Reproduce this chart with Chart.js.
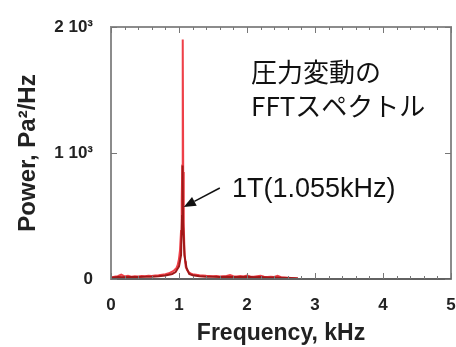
<!DOCTYPE html>
<html>
<head>
<meta charset="utf-8">
<script src="https://cdn.jsdelivr.net/npm/chart.js@4"></script>
<style>
  html, body { margin: 0; padding: 0; background: #ffffff; }
  #wrap { width: 456px; height: 347px; }
</style>
</head>
<body>
<div id="wrap"><canvas id="c" width="456" height="347"></canvas></div>
<script>
// Pressure fluctuation FFT spectrum (frequency in kHz, power in Pa^2/Hz)
const freqMain = [0, 0.05, 0.1, 0.15, 0.2, 0.25, 0.3, 0.35, 0.4, 0.45, 0.5, 0.55, 0.6, 0.65, 0.7, 0.75, 0.8, 0.85, 0.9, 0.93, 0.96, 0.98, 1.0, 1.015, 1.03, 1.04, 1.048, 1.055, 1.062, 1.07, 1.08, 1.09, 1.1, 1.12, 1.14, 1.17, 1.2, 1.25, 1.3, 1.35, 1.4, 1.45, 1.5, 1.55, 1.6, 1.65, 1.7, 1.75, 1.8, 1.85, 1.9, 1.95, 2.0, 2.05, 2.1, 2.15, 2.2, 2.25, 2.3, 2.35, 2.4, 2.45, 2.5, 2.55, 2.6, 2.65, 2.7, 2.75];
const powerMain = [12, 18, 22, 35, 20, 25, 18, 22, 20, 24, 22, 26, 24, 28, 30, 34, 38, 45, 58, 70, 85, 110, 160, 230, 380, 620, 900, 1900, 850, 420, 230, 140, 95, 70, 55, 45, 38, 34, 30, 28, 25, 24, 22, 24, 20, 22, 24, 32, 22, 20, 24, 20, 28, 20, 18, 22, 26, 18, 16, 18, 16, 26, 14, 12, 10, 8, 6, 4];

// Smoothed spectrum drawn underneath in dark red
const freqSmooth = [0, 0.1, 0.2, 0.3, 0.4, 0.5, 0.6, 0.7, 0.8, 0.9, 0.95, 1.0, 1.03, 1.045, 1.052, 1.06, 1.08, 1.11, 1.15, 1.2, 1.3, 1.4, 1.5, 1.6, 1.7, 1.8, 1.9, 2.0, 2.1, 2.2, 2.3, 2.4, 2.5, 2.6, 2.7, 2.75];
const powerSmooth = [10, 15, 14, 16, 15, 17, 18, 22, 28, 40, 55, 100, 190, 500, 900, 450, 190, 90, 40, 30, 22, 18, 17, 16, 18, 15, 16, 18, 14, 15, 12, 12, 10, 8, 5, 3];

const xTickValues = [0, 1, 2, 3, 4, 5];
const yTickValues = [0, 1000, 2000];
const yTickLabels = ['0', '1 10\u00B3', '2 10\u00B3'];

const peakLabel = '1T(1.055kHz)';
const titleLines = ['圧力変動の', 'FFTスペクトル'];

// Placement of the annotation text and arrow, in axis units
const annot = {
  titleX: 2.06, titleY: [1643, 1373],
  peakTextX: 1.78, peakTextY: 706,
  arrowFrom: { x: 1.6, y: 722 },
  arrowTo: { x: 1.07, y: 571 }
};

const toPoints = (xs, ys) => xs.map((v, i) => ({ x: v, y: ys[i] }));

const framePlugin = {
  id: 'frame',
  afterDatasetsDraw(chart) {
    const { ctx, chartArea: a, scales: { x, y } } = chart;
    ctx.save();
    // axis box
    ctx.strokeStyle = '#8c8c8c';
    ctx.lineWidth = 2;
    ctx.strokeRect(a.left, a.top, a.right - a.left, a.bottom - a.top);
    ctx.strokeStyle = '#555';
    ctx.lineWidth = 1.5;
    ctx.beginPath();
    ctx.moveTo(a.left, a.bottom);
    ctx.lineTo(a.right, a.bottom);
    ctx.stroke();
    // inward tick marks
    ctx.strokeStyle = '#777';
    ctx.lineWidth = 1;
    ctx.beginPath();
    for (let k = 0; k <= 25; k++) {
      const px = Math.round(x.getPixelForValue(k * 0.2)) + 0.5;
      const len = (k % 5 === 0) ? 6 : 3;
      ctx.moveTo(px, a.bottom); ctx.lineTo(px, a.bottom - len);
      ctx.moveTo(px, a.top); ctx.lineTo(px, a.top + len);
    }
    for (const v of yTickValues) {
      const py = Math.round(y.getPixelForValue(v)) + 0.5;
      ctx.moveTo(a.left, py); ctx.lineTo(a.left + 6, py);
      ctx.moveTo(a.right, py); ctx.lineTo(a.right - 6, py);
    }
    ctx.stroke();

    // annotation text
    ctx.fillStyle = '#111';
    ctx.textBaseline = 'middle';
    ctx.textAlign = 'left';
    ctx.font = '26px "Noto Sans CJK JP"';
    titleLines.forEach((t, i) => {
      ctx.fillText(t, x.getPixelForValue(annot.titleX), y.getPixelForValue(annot.titleY[i]));
    });
    ctx.font = '27px "Liberation Sans", Arial, sans-serif';
    ctx.fillText(peakLabel, x.getPixelForValue(annot.peakTextX), y.getPixelForValue(annot.peakTextY));

    // arrow
    const x0 = x.getPixelForValue(annot.arrowFrom.x), y0 = y.getPixelForValue(annot.arrowFrom.y);
    const x1 = x.getPixelForValue(annot.arrowTo.x), y1 = y.getPixelForValue(annot.arrowTo.y);
    const ang = Math.atan2(y1 - y0, x1 - x0);
    const head = 12, half = 5;
    const bx = x1 - head * Math.cos(ang), by = y1 - head * Math.sin(ang);
    ctx.strokeStyle = '#111';
    ctx.lineWidth = 1.5;
    ctx.beginPath();
    ctx.moveTo(x0, y0); ctx.lineTo(bx, by);
    ctx.stroke();
    ctx.beginPath();
    ctx.moveTo(x1, y1);
    ctx.lineTo(bx + half * Math.sin(ang), by - half * Math.cos(ang));
    ctx.lineTo(bx - half * Math.sin(ang), by + half * Math.cos(ang));
    ctx.closePath();
    ctx.fill();
    ctx.restore();
  }
};

new Chart(document.getElementById('c'), {
  type: 'scatter',
  data: {
    datasets: [
      {
        data: toPoints(freqSmooth, powerSmooth),
        showLine: true, borderColor: '#a01818', borderWidth: 2,
        pointRadius: 0, tension: 0
      },
      {
        data: toPoints(freqMain, powerMain),
        showLine: true, borderColor: 'rgba(235, 30, 40, 0.85)', borderWidth: 2,
        pointRadius: 0, tension: 0
      }
    ]
  },
  options: {
    responsive: false,
    devicePixelRatio: 1,
    animation: false,
    layout: { padding: { top: 27, right: 5, left: 0, bottom: 0 } },
    plugins: { legend: { display: false }, tooltip: { enabled: false } },
    scales: {
      x: {
        type: 'linear', min: 0, max: 5,
        afterBuildTicks(s) { s.ticks = xTickValues.map(v => ({ value: v })); },
        afterFit(s) { s.height = 68; s.paddingLeft = 0; s.paddingRight = 0; },
        grid: { display: false },
        border: { display: false },
        ticks: {
          padding: 8, color: '#222', maxRotation: 0,
          font: { family: '"Liberation Sans", Arial, sans-serif', size: 17, weight: 'bold' }
        },
        title: {
          display: true, text: 'Frequency, kHz', color: '#222',
          padding: { top: 4, bottom: 0 },
          font: { family: '"Liberation Sans", Arial, sans-serif', size: 23, weight: 'bold' }
        }
      },
      y: {
        type: 'linear', min: 0, max: 2000,
        afterBuildTicks(s) { s.ticks = yTickValues.map(v => ({ value: v })); },
        afterFit(s) { s.width = 111; s.paddingTop = 0; s.paddingBottom = 0; },
        grid: { display: false },
        border: { display: false },
        ticks: {
          padding: 10, color: '#222',
          callback: (v) => { const i = yTickValues.indexOf(v); return i >= 0 ? yTickLabels[i] : ''; },
          font: { family: '"Liberation Sans", Arial, sans-serif', size: 17, weight: 'bold' }
        },
        title: {
          display: true, text: 'Power, Pa\u00B2/Hz', color: '#222',
          padding: { top: 14, bottom: 0 },
          font: { family: '"Liberation Sans", Arial, sans-serif', size: 24, weight: 'bold' }
        }
      }
    }
  },
  plugins: [framePlugin]
});
</script>
</body>
</html>
